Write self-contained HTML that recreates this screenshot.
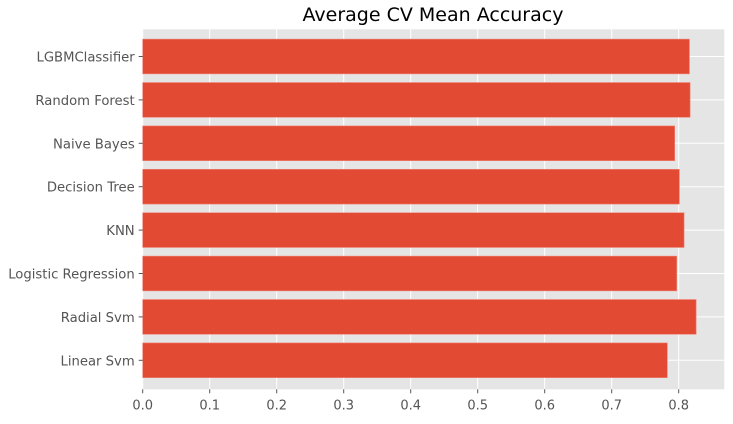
<!DOCTYPE html>
<html><head><meta charset="utf-8"><style>
body{margin:0;background:#fff;width:733px;height:420px;overflow:hidden;font-family:"DejaVu Sans","Liberation Sans",sans-serif}
</style></head><body>
<svg id="chart" width="733" height="420" xmlns="http://www.w3.org/2000/svg">
<text x="433" y="21" font-size="19" text-anchor="middle" fill="#000">Average CV Mean Accuracy</text>
<rect x="142.7" y="29.3" width="581.6" height="360" fill="#e5e5e5"/>
<g id="grid"></g><g id="bars"></g><g id="xaxis"></g><g id="yaxis"></g>
</svg>
<script>
const categories=["Linear Svm","Radial Svm","Logistic Regression","KNN","Decision Tree","Naive Bayes","Random Forest","LGBMClassifier"];
const values=[0.783,0.826,0.797,0.808,0.801,0.794,0.817,0.816];
const xTicks=[0,0.1,0.2,0.3,0.4,0.5,0.6,0.7,0.8];
const xTickLabels=["0.0","0.1","0.2","0.3","0.4","0.5","0.6","0.7","0.8"];
const NS="http://www.w3.org/2000/svg";
const x0=142.7,kx=670.0,plotTop=29.3,plotBot=389.3,plotRight=724.3;
const pitch=43.4;
function xs(v){return x0+v*kx;}
function ys(i){return 360.3-i*pitch;}
function mk(t,a,p){const e=document.createElementNS(NS,t);for(const k in a)e.setAttribute(k,a[k]);p.appendChild(e);return e;}
const grid=document.getElementById('grid'),bars=document.getElementById('bars'),xa=document.getElementById('xaxis'),ya=document.getElementById('yaxis');
xTicks.forEach((t,i)=>{
 const g=mk('line',{x1:xs(t),x2:xs(t),y1:plotTop,y2:plotBot,stroke:'#fff','stroke-width':1},grid);
 
 
 const tk=mk('line',{x1:xs(t),x2:xs(t),y1:plotBot,y2:plotBot+4,stroke:'#555','stroke-width':1},xa);
 
 
 const tl=mk('text',{x:xs(t),y:plotBot+20,'font-size':13,'text-anchor':'middle',fill:'#555'},xa);
 tl.textContent=xTickLabels[i];
 
 
});
categories.forEach((c,i)=>{
 const gl=mk('line',{x1:x0,x2:plotRight,y1:ys(i),y2:ys(i),stroke:'#fff','stroke-width':1},grid);
 
 
 const h=pitch*0.8;
 const b=mk('rect',{x:x0,y:ys(i)-h/2,width:xs(values[i])-x0,height:h,fill:'#e24a33',stroke:'#f08070','stroke-width':0.6},bars);
 
 
 const tk=mk('line',{x1:x0-4,x2:x0,y1:ys(i),y2:ys(i),stroke:'#555','stroke-width':1},ya);
 
 
 const tl=mk('text',{x:x0-8,y:ys(i)+5,'font-size':13.2,'text-anchor':'end',fill:'#555'},ya);
 tl.textContent=c;
 
 
});
</script>
</body></html>
